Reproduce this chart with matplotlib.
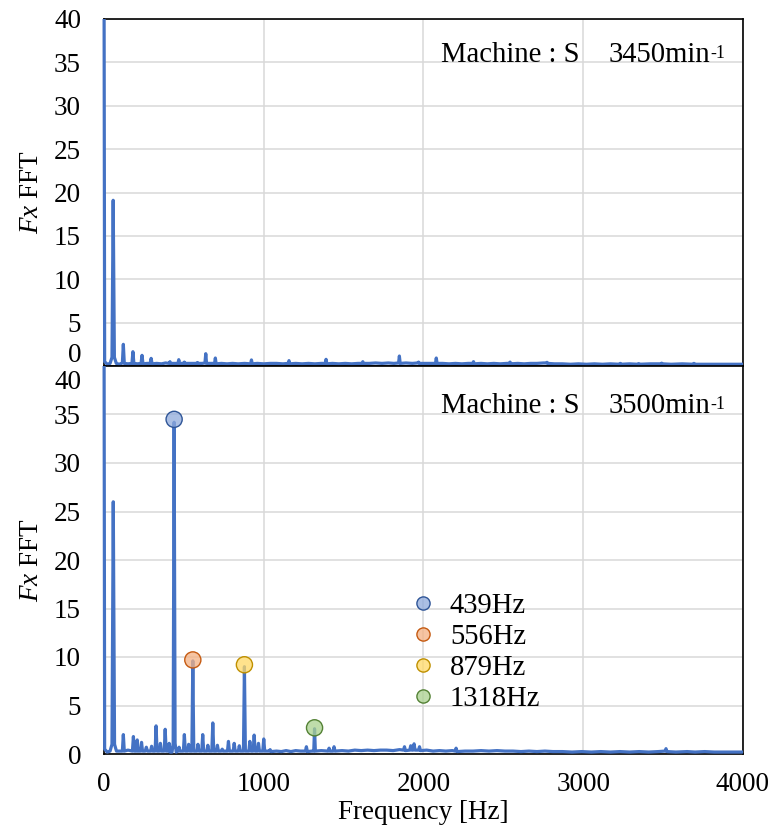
import numpy as np
import matplotlib
matplotlib.use("Agg")
import matplotlib.pyplot as plt
from matplotlib.lines import Line2D
from matplotlib.colors import to_rgba
from matplotlib.transforms import Bbox, TransformedBbox

plt.rcParams['font.family'] = ['Liberation Serif', 'DejaVu Serif']
plt.rcParams['mathtext.fontset'] = 'custom'
plt.rcParams['mathtext.rm'] = 'Liberation Serif'
plt.rcParams['mathtext.it'] = 'Liberation Serif:italic'

# ---------------- data ----------------
x_ticks = [0, 1000, 2000, 3000, 4000]
y_ticks = [0, 5, 10, 15, 20, 25, 30, 35, 40]

panel_titles = ["Machine : S", "Machine : S"]
panel_speeds = ["3450min", "3500min"]

# spectrum at 3450 min^-1 (frequency [Hz], Fx FFT)
freq_3450 = [0, 4, 20, 38, 50, 57.5, 65, 77, 95, 115,
             121, 127, 150, 175, 181, 187, 210, 232, 238, 244,
             270, 289, 295, 301, 330, 360, 385, 408, 413, 418,
             440, 463, 468, 473, 498, 503, 508, 540, 580, 585,
             590, 615, 632, 637, 642, 670, 692, 697, 702, 735,
             770, 805, 840, 880, 918, 923, 928, 960, 1000, 1040,
             1080, 1120, 1153, 1158, 1163, 1200, 1240, 1280, 1320, 1360,
             1385, 1390, 1395, 1430, 1470, 1510, 1550, 1590, 1615, 1620,
             1625, 1660, 1700, 1740, 1780, 1815, 1844, 1849, 1854, 1890,
             1930, 1964, 1969, 1974, 2010, 2050, 2075, 2080, 2085, 2120,
             2160, 2200, 2240, 2280, 2308, 2313, 2318, 2360, 2400, 2440,
             2480, 2520, 2537, 2542, 2547, 2590, 2630, 2670, 2710, 2750,
             2768, 2773, 2778, 2820, 2870, 2920, 2970, 3020, 3070, 3120,
             3170, 3227, 3232, 3237, 3290, 3342, 3347, 3352, 3420, 3486,
             3491, 3496, 3550, 3620, 3688, 3693, 3698, 3780, 3880, 4000]
fx_3450 = [48, 0.5, 0.2, 0.3, 1.0, 19.1, 1.0, 0.3, 0.2, 0.35,
           2.5, 0.3, 0.25, 0.3, 1.65, 0.3, 0.25, 0.3, 1.23, 0.25,
           0.3, 0.3, 0.88, 0.25, 0.3, 0.25, 0.35, 0.3, 0.5, 0.3,
           0.3, 0.3, 0.73, 0.3, 0.3, 0.45, 0.3, 0.3, 0.3, 0.4,
           0.3, 0.3, 0.35, 1.42, 0.3, 0.3, 0.3, 0.92, 0.25, 0.3,
           0.25, 0.3, 0.25, 0.3, 0.25, 0.7, 0.25, 0.3, 0.25, 0.3,
           0.3, 0.25, 0.3, 0.62, 0.25, 0.3, 0.25, 0.3, 0.25, 0.3,
           0.3, 0.77, 0.25, 0.3, 0.25, 0.3, 0.25, 0.3, 0.3, 0.5,
           0.3, 0.3, 0.35, 0.3, 0.35, 0.3, 0.35, 1.15, 0.3, 0.35,
           0.3, 0.35, 0.45, 0.3, 0.3, 0.3, 0.3, 0.92, 0.3, 0.3,
           0.25, 0.3, 0.25, 0.3, 0.3, 0.5, 0.25, 0.3, 0.25, 0.3,
           0.25, 0.3, 0.3, 0.45, 0.25, 0.3, 0.25, 0.3, 0.3, 0.35,
           0.35, 0.42, 0.3, 0.25, 0.25, 0.2, 0.25, 0.2, 0.25, 0.2,
           0.25, 0.2, 0.3, 0.2, 0.25, 0.2, 0.28, 0.2, 0.25, 0.25,
           0.33, 0.25, 0.2, 0.25, 0.2, 0.3, 0.2, 0.2, 0.2, 0.2]

# spectrum at 3500 min^-1
freq_3500 = [0, 4, 20, 38, 50, 58, 66, 78, 100, 115,
             121, 127, 150, 178, 184, 190, 203, 208, 213, 229,
             235, 241, 258, 265, 272, 292, 298, 304, 320, 326,
             332, 347, 353, 359, 377, 383, 389, 402, 408, 414,
             426, 433, 439, 445, 452, 464, 470, 476, 497, 503,
             509, 524, 530, 536, 550, 556, 562, 582, 588, 594,
             612, 618, 624, 644, 650, 656, 675, 681, 687, 704,
             710, 716, 734, 740, 746, 773, 779, 785, 809, 815,
             821, 841, 847, 853, 873, 879, 885, 907, 913, 919,
             934, 940, 946, 961, 967, 973, 994, 1000, 1006, 1034,
             1040, 1046, 1080, 1110, 1140, 1170, 1200, 1230, 1261, 1267,
             1273, 1300, 1313, 1318, 1323, 1360, 1403, 1409, 1415, 1434,
             1440, 1446, 1490, 1530, 1570, 1610, 1650, 1690, 1730, 1770,
             1810, 1850, 1875, 1881, 1887, 1914, 1920, 1926, 1935, 1941,
             1947, 1969, 1975, 1981, 2020, 2060, 2100, 2140, 2180, 2198,
             2204, 2210, 2260, 2310, 2360, 2410, 2460, 2510, 2560, 2610,
             2660, 2710, 2760, 2810, 2870, 2930, 2990, 3050, 3110, 3170,
             3230, 3290, 3350, 3410, 3470, 3512, 3518, 3524, 3580, 3650,
             3700, 3760, 3820, 3880, 3940, 4000]
fx_3500 = [48, 0.5, 0.2, 0.3, 1.0, 26.0, 1.0, 0.3, 0.3, 0.3,
           2.0, 0.3, 0.4, 0.3, 1.8, 0.3, 0.3, 1.45, 0.3, 0.3,
           1.2, 0.3, 0.3, 0.7, 0.3, 0.3, 0.8, 0.3, 0.3, 2.9,
           0.3, 0.3, 1.1, 0.3, 0.3, 2.55, 0.3, 0.3, 1.1, 0.2,
           0.2, 1.1, 34.2, 1.1, 0.2, 0.3, 0.7, 0.3, 0.3, 2.0,
           0.3, 0.3, 1.0, 0.3, 0.3, 9.6, 0.3, 0.3, 1.0, 0.3,
           0.3, 2.0, 0.3, 0.3, 0.9, 0.3, 0.3, 3.2, 0.3, 0.3,
           0.9, 0.3, 0.3, 0.5, 0.3, 0.3, 1.3, 0.3, 0.3, 1.1,
           0.3, 0.3, 0.85, 0.3, 0.3, 9.0, 0.3, 0.3, 1.3, 0.3,
           0.3, 1.95, 0.3, 0.3, 1.1, 0.3, 0.3, 1.55, 0.3, 0.3,
           0.45, 0.25, 0.3, 0.25, 0.35, 0.25, 0.35, 0.3, 0.3, 0.75,
           0.25, 0.3, 0.3, 2.6, 0.3, 0.35, 0.3, 0.6, 0.3, 0.3,
           0.75, 0.3, 0.35, 0.3, 0.4, 0.35, 0.4, 0.35, 0.4, 0.4,
           0.35, 0.45, 0.4, 0.75, 0.35, 0.4, 0.85, 0.4, 0.4, 1.05,
           0.4, 0.4, 0.75, 0.35, 0.4, 0.3, 0.35, 0.3, 0.35, 0.3,
           0.6, 0.25, 0.3, 0.3, 0.35, 0.3, 0.35, 0.3, 0.3, 0.25,
           0.3, 0.25, 0.3, 0.25, 0.25, 0.2, 0.25, 0.2, 0.25, 0.2,
           0.25, 0.2, 0.25, 0.2, 0.25, 0.3, 0.55, 0.25, 0.2, 0.25,
           0.2, 0.25, 0.2, 0.2, 0.2, 0.2]

# highlighted peaks (3500 min^-1)
peak_labels = ["439Hz", "556Hz", "879Hz", "1318Hz"]
peak_freq = [439, 556, 879, 1318]
peak_amp = [34.5, 9.7, 9.2, 2.7]
peak_face = ["#8FAADC", "#F4B183", "#FFD966", "#A9D18E"]
peak_edge = ["#2F5597", "#C55A11", "#BF9000", "#548235"]

# ---------------- figure ----------------
FS = 19.5
FS_TXT = 20.6
LINE_C = "#4472C4"
W, H = 775, 832
fig = plt.figure(figsize=(W / 100, H / 100), dpi=100)


def rect(l, t, r, b):
    return [l / W, 1 - b / H, (r - l) / W, (b - t) / H]


ax_top = fig.add_axes(rect(104, 19, 743, 366))
ax_bot = fig.add_axes(rect(104, 366, 743, 754))

for ax in (ax_top, ax_bot):
    ax.set_xlim(x_ticks[0], x_ticks[-1])
    ax.set_ylim(y_ticks[0], y_ticks[-1])
    ax.set_xticks(x_ticks)
    ax.grid(True, color="#d9d9d9", lw=1.1)
    ax.set_axisbelow(True)
    ax.tick_params(length=0, labelsize=FS)
    ax.tick_params(axis="y", pad=16.5)
    ax.tick_params(axis="x", pad=13)
    for s in ax.spines.values():
        s.set_color("black")
        s.set_linewidth(1.2)
    ax.set_ylabel(r"$\mathit{Fx}$ FFT", fontsize=FS)
    ax.yaxis.set_label_coords(-0.094, 0.5)

ax_top.tick_params(labelbottom=False)

# y tick labels; the shared-edge labels are nudged like in the reference
top_labels = [str(v) for v in y_ticks]
top_labels[0] = ""
ax_top.set_yticks(y_ticks, top_labels)
ax_top.annotate(str(y_ticks[0]), xy=(0, y_ticks[0]), xycoords=ax_top.get_yaxis_transform(),
                xytext=(-16.5, 7.5), textcoords="offset points",
                ha="right", va="center", fontsize=FS)
bot_labels = [str(v) for v in y_ticks]
bot_labels[-1] = ""
ax_bot.set_yticks(y_ticks, bot_labels)
ax_bot.annotate(str(y_ticks[-1]), xy=(0, y_ticks[-1]), xycoords=ax_bot.get_yaxis_transform(),
                xytext=(-16.5, -12), textcoords="offset points",
                ha="right", va="center", fontsize=FS)

for ax, fr, amp in ((ax_top, freq_3450, fx_3450), (ax_bot, freq_3500, fx_3500)):
    ln, = ax.plot(fr, amp, color=LINE_C, lw=2.3, zorder=3,
                  solid_joinstyle="round")
    # let the 0 Hz spike show its full width at the left edge
    ln.set_clip_box(TransformedBbox(Bbox([[-0.004, 0.0], [1.0, 1.0]]),
                                    ax.transAxes))

ax_bot.scatter(peak_freq, peak_amp, s=135,
               facecolors=[to_rgba(c, 0.75) for c in peak_face],
               edgecolors=peak_edge, linewidths=1.0, zorder=4)

ax_bot.set_xlabel("Frequency [Hz]", fontsize=FS)
ax_bot.xaxis.set_label_coords(0.5, -0.118)

# panel annotations
for ax, title, speed, ypos in ((ax_top, panel_titles[0], panel_speeds[0], 0.876),
                               (ax_bot, panel_titles[1], panel_speeds[1], 0.879)):
    ax.text(0.527, ypos, title, transform=ax.transAxes, ha="left",
            va="baseline", fontsize=FS_TXT, zorder=5)
    t = ax.text(0.789, ypos, speed, transform=ax.transAxes, ha="left",
                va="baseline", fontsize=FS_TXT, zorder=5)
    ax.annotate("-1", xy=(1, 1), xycoords=t, xytext=(0.5, -2),
                textcoords="offset points", ha="left", va="top",
                fontsize=FS_TXT * 0.62, zorder=5)

handles = [Line2D([], [], ls="none", marker="o", markersize=9.5,
                  markerfacecolor=to_rgba(f, 0.75), markeredgecolor=e,
                  markeredgewidth=1.0)
           for f, e in zip(peak_face, peak_edge)]
ax_bot.legend(handles, peak_labels, loc="upper left",
              bbox_to_anchor=(0.4765, 0.415), frameon=False, fontsize=FS_TXT,
              handlelength=1.0, handletextpad=0.45, labelspacing=0.17,
              borderpad=0, borderaxespad=0)

fig.savefig("out.png", dpi=100)
